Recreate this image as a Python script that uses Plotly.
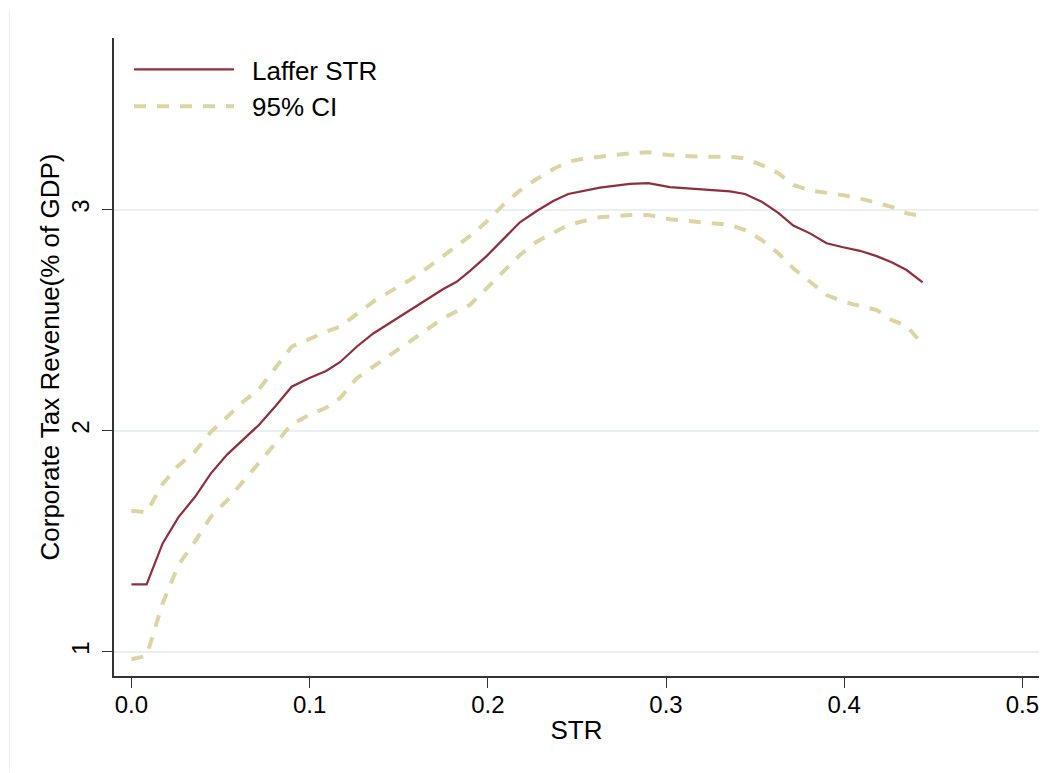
import plotly.graph_objects as go

# Statutory tax rate grid and estimated revenue curve with its 95% band
str_rate = [0.000, 0.0085, 0.0175, 0.0263, 0.0356, 0.0446, 0.0538, 0.0627, 0.0715, 0.0809,
            0.0899, 0.0996, 0.1092, 0.1170, 0.1264, 0.1357, 0.1460, 0.1563, 0.1657, 0.1750,
            0.1825, 0.1900, 0.1993, 0.2086, 0.2180, 0.2274, 0.2367, 0.2451, 0.2545, 0.2629,
            0.2797, 0.2900, 0.3022, 0.3190, 0.3359, 0.3443, 0.3537, 0.3630, 0.3714, 0.3808,
            0.3901, 0.3994, 0.4088, 0.4182, 0.4266, 0.4350, 0.4440]

laffer = [1.305, 1.305, 1.490, 1.608, 1.700, 1.807, 1.893, 1.961, 2.026, 2.112,
          2.199, 2.237, 2.270, 2.310, 2.380, 2.440, 2.493, 2.546, 2.595, 2.641,
          2.674, 2.723, 2.790, 2.866, 2.943, 2.994, 3.039, 3.071, 3.085, 3.100,
          3.117, 3.120, 3.102, 3.091, 3.083, 3.071, 3.036, 2.986, 2.928, 2.893,
          2.848, 2.830, 2.814, 2.790, 2.762, 2.727, 2.671]

ci_upper = [1.638, 1.631, 1.759, 1.842, 1.905, 1.995, 2.063, 2.131, 2.187, 2.282,
            2.380, 2.414, 2.448, 2.470, 2.528, 2.584, 2.634, 2.682, 2.735, 2.790,
            2.838, 2.881, 2.946, 3.022, 3.087, 3.139, 3.184, 3.217, 3.232, 3.240,
            3.255, 3.260, 3.247, 3.240, 3.240, 3.232, 3.202, 3.165, 3.112, 3.087,
            3.077, 3.066, 3.051, 3.031, 3.013, 2.984, 2.971]

ci_lower = [0.966, 0.981, 1.219, 1.392, 1.498, 1.611, 1.686, 1.769, 1.852, 1.943,
            2.029, 2.071, 2.104, 2.147, 2.237, 2.290, 2.347, 2.403, 2.459, 2.509,
            2.540, 2.570, 2.644, 2.719, 2.795, 2.855, 2.896, 2.931, 2.950, 2.966,
            2.976, 2.976, 2.957, 2.946, 2.931, 2.908, 2.863, 2.803, 2.735, 2.674,
            2.614, 2.584, 2.564, 2.546, 2.501, 2.474, 2.391]

x_ticks = [0.0, 0.1, 0.2, 0.3, 0.4, 0.5]
x_tick_text = ["0.0", "0.1", "0.2", "0.3", "0.4", "0.5"]
y_ticks = [1, 2, 3]

LINE_RED = "#8f2f3b"
CI_SAND = "#dcd5a3"
FONT = "Liberation Sans, Arial, sans-serif"
GAP = "\u2002"  # spacing between legend key and label

fig = go.Figure()
fig.add_trace(go.Scatter(
    x=str_rate, y=laffer, mode="lines", name=GAP + "Laffer STR",
    line=dict(color=LINE_RED, width=2.2),
))
fig.add_trace(go.Scatter(
    x=str_rate, y=ci_upper, mode="lines", name=GAP + "95% CI",
    line=dict(color=CI_SAND, width=4, dash="12px,11px"),
))
fig.add_trace(go.Scatter(
    x=str_rate, y=ci_lower, mode="lines", name=GAP + "95% CI", showlegend=False,
    line=dict(color=CI_SAND, width=4, dash="12px,11px"),
))

fig.update_layout(
    template="none",
    width=1058, height=773,
    margin=dict(l=114, r=19, t=38, b=97, autoexpand=False),
    paper_bgcolor="white", plot_bgcolor="white",
    font=dict(family=FONT, color="black", size=24),
    showlegend=True,
    legend=dict(
        x=0.0162, y=0.9875, xanchor="left", yanchor="top",
        bgcolor="rgba(0,0,0,0)", borderwidth=0, font=dict(size=26, family=FONT),
        itemwidth=100, tracegroupgap=0,
    ),
    xaxis=dict(
        range=[-0.0098, 0.5093], tickvals=x_ticks, ticktext=x_tick_text,
        showgrid=False, zeroline=False, automargin=False,
        showline=True, linecolor="#333333", linewidth=1.5,
        ticks="outside", ticklen=10, tickwidth=1.3, tickcolor="#333333",
        tickfont=dict(size=24), ticklabelstandoff=-4,
        title=dict(text="STR", font=dict(size=26), standoff=4),
    ),
    yaxis=dict(
        range=[0.890, 3.777], tickvals=y_ticks,
        showgrid=True, gridcolor="#e8f0f2", gridwidth=2, zeroline=False, automargin=False,
        showline=True, linecolor="#333333", linewidth=1.5,
        ticks="outside", ticklen=10, tickwidth=1.3, tickcolor="#333333",
        tickangle=-90, tickfont=dict(size=24), ticklabelstandoff=4,
        title=dict(text="Corporate Tax Revenue(% of GDP)", font=dict(size=26), standoff=0),
    ),
)

# faint outer frame edge at the left of the graph region
fig.add_shape(type="line", xref="paper", yref="paper",
              x0=-0.113, x1=-0.113, y0=-0.151, y1=1.042,
              line=dict(color="#f0f0f0", width=1))

fig.write_html("out.html")
